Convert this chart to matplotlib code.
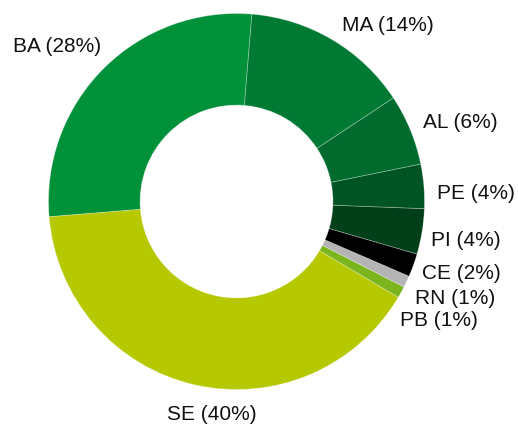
import matplotlib
matplotlib.use("Agg")
import matplotlib.pyplot as plt

# Data (counter-clockwise order starting from the top)
categories = ["BA", "SE", "PB", "RN", "CE", "PI", "PE", "AL", "MA"]
values = [27.6, 40.2, 1.0, 1.0, 2.0, 3.9, 3.8, 6.1, 14.4]
colors = ["#009139", "#B5C800", "#7AB51D", "#B4B4B4", "#000000",
          "#003F18", "#005423", "#006B2D", "#007A33"]

# label positions in pixels (left x, center y from top)
label_pos = {
    "BA": (12.7, 46), "SE": (166.7, 414), "PB": (400.5, 320.5),
    "RN": (415, 298), "CE": (421.7, 273.5), "PI": (431, 240.5),
    "PE": (436.7, 194), "AL": (423, 122), "MA": (341.7, 25.5),
}

W, H = 518, 424
fig = plt.figure(figsize=(W / 100, H / 100), dpi=100)
cx, cy, R = 236.5, 201.5, 188
ax = fig.add_axes([(cx - R) / W, (H - cy - R) / H, 2 * R / W, 2 * R / H])
ax.pie(values, colors=colors, startangle=85.3, counterclock=True,
       radius=1.0,
       wedgeprops=dict(width=0.487, edgecolor=(1, 1, 1, 0.3), linewidth=0.6))
ax.set_xlim(-1, 1)
ax.set_ylim(-1, 1)
ax.set_aspect("equal")
ax.axis("off")

for cat, v in zip(categories, values):
    x, y = label_pos[cat]
    fig.text(x / W, 1 - y / H, f"{cat} ({round(v)}%)", ha="left", va="center",
             fontsize=15, family="Liberation Sans", color="#111111")

fig.savefig("out.png", dpi=100)
